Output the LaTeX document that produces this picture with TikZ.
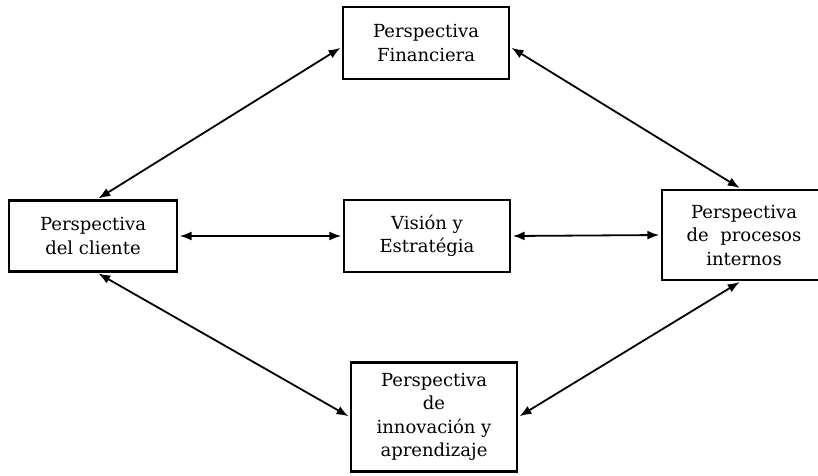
\documentclass[tikz,border=0pt]{standalone}
\usepackage{fontspec}
\setmainfont{DejaVu Serif}
\usetikzlibrary{arrows.meta}
\begin{document}
\begin{tikzpicture}[x=1pt,y=-1pt,
  box/.style={draw,line width=2.4pt,fill=white,align=center,inner sep=0pt,
    font=\fontsize{18}{23.5}\selectfont},
  link/.style={line width=1.8pt,{Latex[length=12pt,width=9pt]}-{Latex[length=12pt,width=9pt]},shorten <=1.5pt,shorten >=1.5pt}]
\useasboundingbox (0,0) rectangle (818,475);
\node[box,minimum width=166pt,minimum height=72pt] (fin) at (426,43) {Perspectiva\\Financiera};
\node[box,minimum width=168pt,minimum height=71pt] (cli) at (93,236) {Perspectiva\\del cliente};
\node[box,minimum width=166pt,minimum height=72pt] (vis) at (427,236) {Visión y\\Estratégia};
\node[box,minimum width=164pt,minimum height=90pt] (pro) at (744,235) {Perspectiva\\de\ \ procesos\\internos};
\node[box,minimum width=166pt,minimum height=109pt] (inn) at (434,417) {Perspectiva\\de\\innovación y\\aprendizaje};
\draw[link] ([yshift=-4pt]fin.west) -- ([xshift=4pt]cli.north);
\draw[link] ([yshift=-4pt]fin.east) -- ([xshift=-3pt]pro.north);
\draw[link] ([xshift=4pt]cli.south) -- (inn.west);
\draw[link] ([xshift=-3pt]pro.south) -- (inn.east);
\draw[link] (cli.east) -- (vis.west);
\draw[link] (vis.east) -- (pro.west);
\end{tikzpicture}
\end{document}
